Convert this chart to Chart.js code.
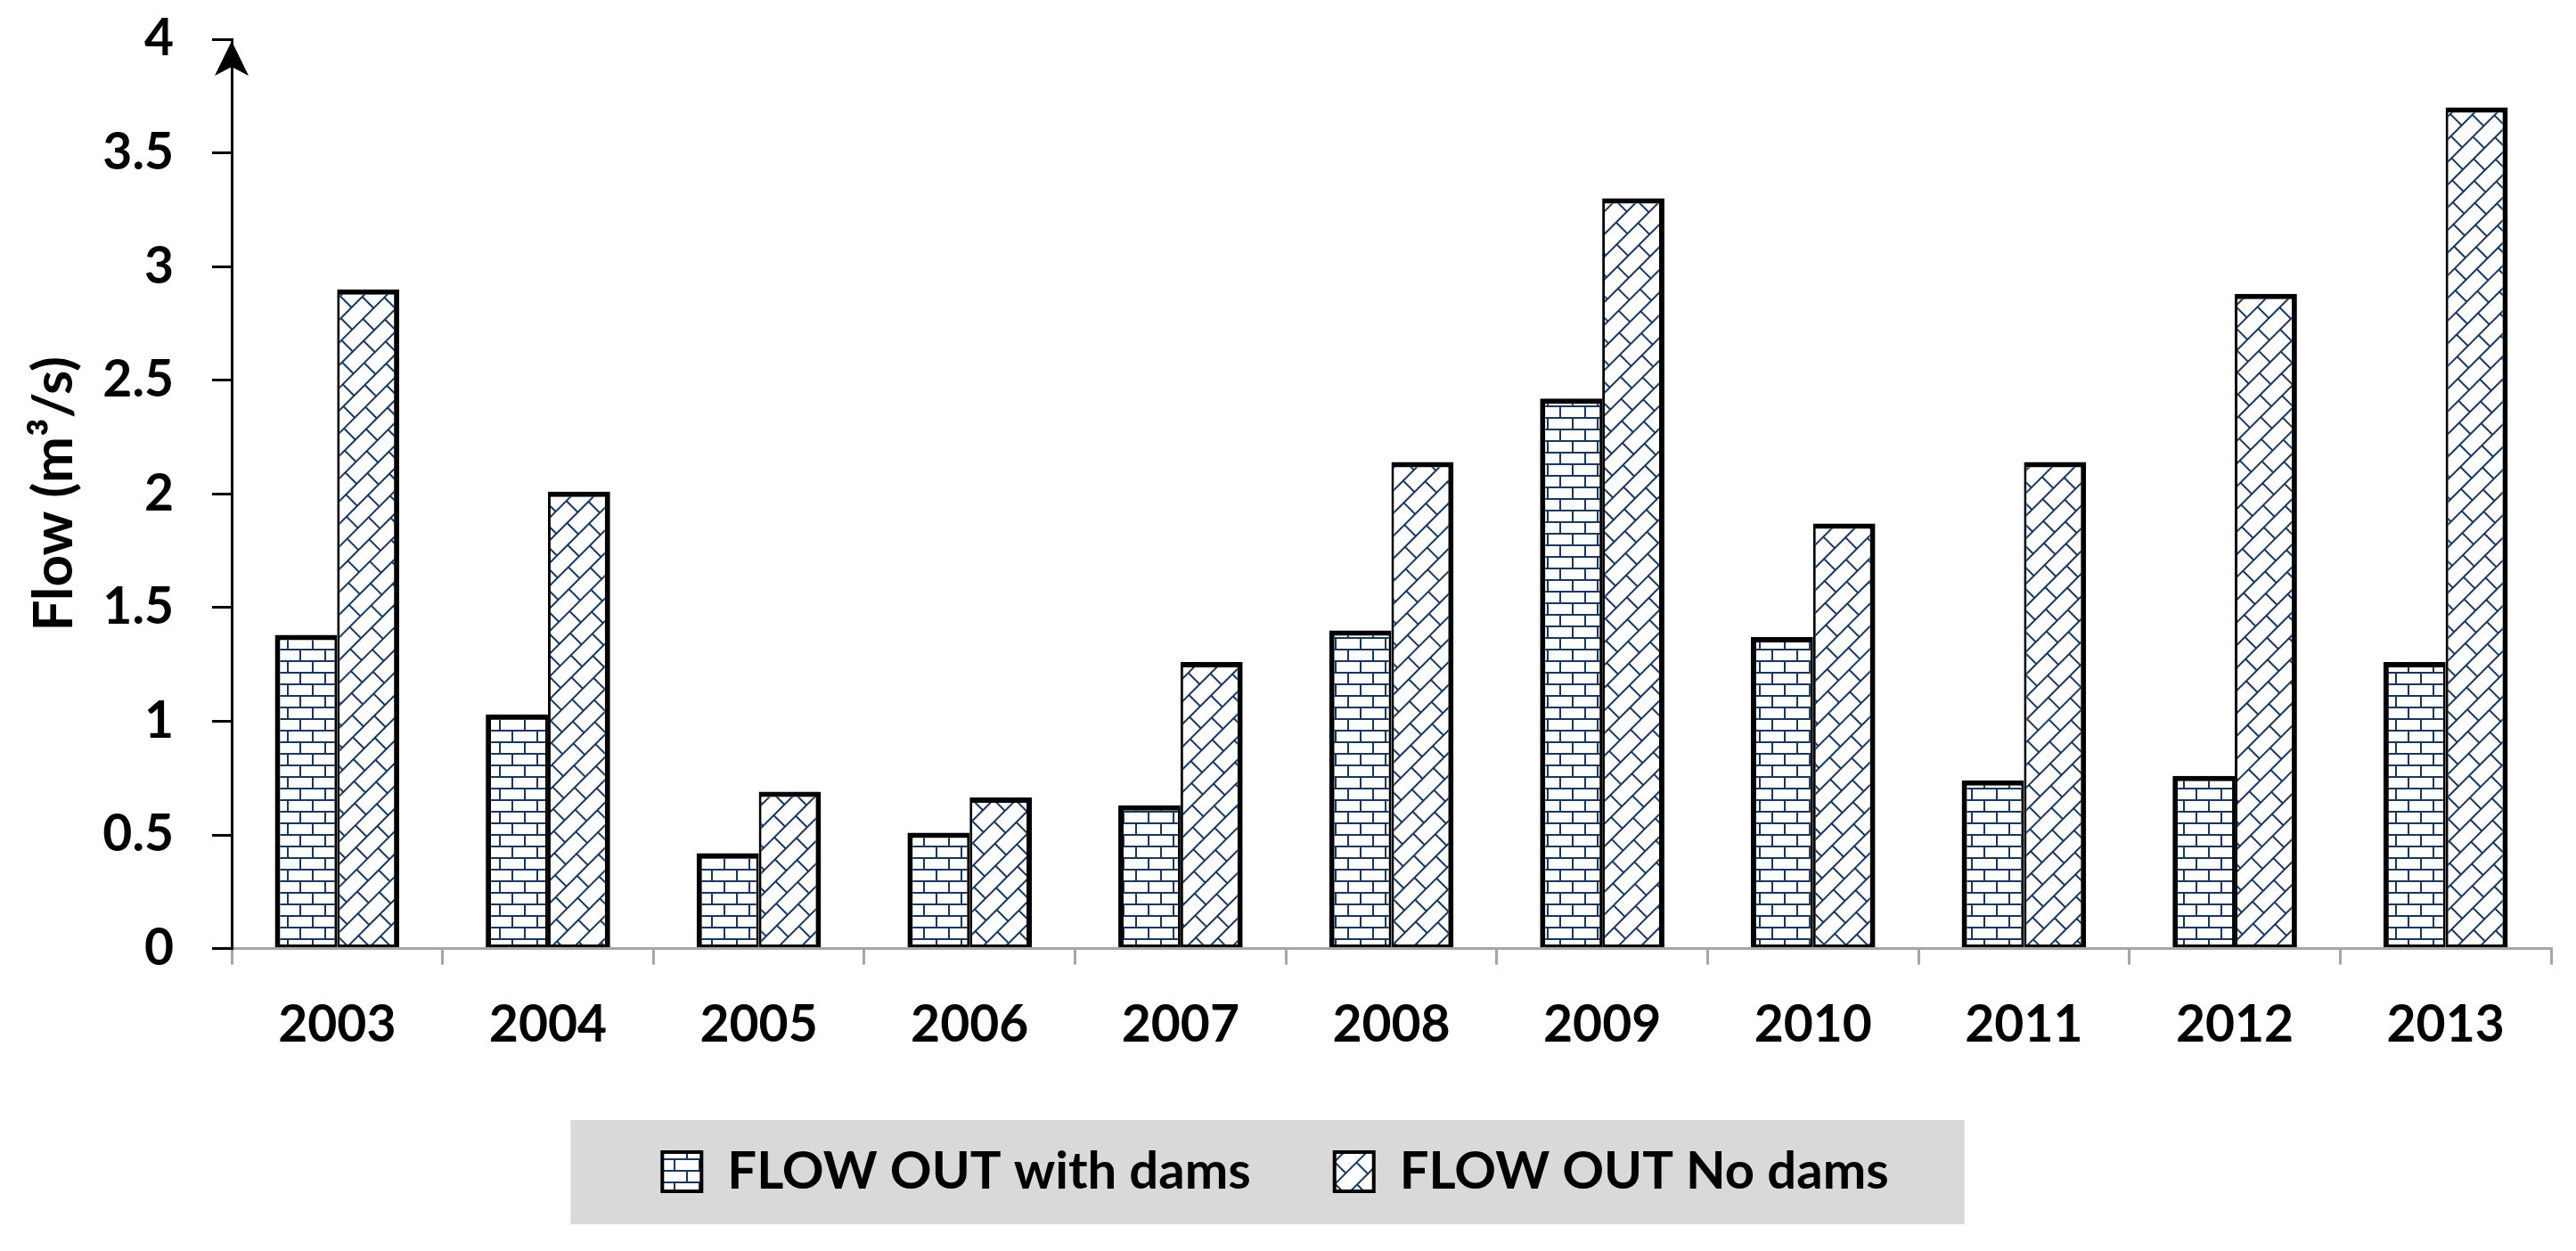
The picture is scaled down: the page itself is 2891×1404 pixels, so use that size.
<!DOCTYPE html>
<html>
<head>
<meta charset="utf-8">
<title>Flow out with / without dams</title>
<script src="https://cdn.jsdelivr.net/npm/chart.js@4.4.1/dist/chart.umd.min.js"></script>
<style>
  html, body { margin: 0; padding: 0; background: #ffffff; }
  #grafico-flujo { display: block; }
</style>
</head>
<body>
<canvas id="grafico-flujo" width="2891" height="1404"></canvas>
<script>
// datos
const years = ['2003', '2004', '2005', '2006', '2007', '2008', '2009', '2010', '2011', '2012', '2013'];
const flowWithDams = [1.38, 1.03, 0.42, 0.51, 0.63, 1.40, 2.42, 1.37, 0.74, 0.76, 1.26];
const flowNoDams = [2.90, 2.01, 0.69, 0.665, 1.26, 2.14, 3.30, 1.87, 2.14, 2.88, 3.70];
const seriesNames = ['FLOW OUT with dams', 'FLOW OUT No dams'];
const yTickLabels = ['0', '0.5', '1', '1.5', '2', '2.5', '3', '3.5', '4'];
const yTitle = 'Flow (m\u00b3/s)';

const navy = '#17375e';
const fontFamily = 'Lato, "Open Sans", sans-serif';

// patron de ladrillos (angle en grados para el diagonal)
const makeBricks = (bw, bh, angle) => {
    const tile = document.createElement('canvas');
    tile.width = bw;
    tile.height = bh * 2;
    const c = tile.getContext('2d');
    c.fillStyle = '#ffffff';
    c.fillRect(0, 0, bw, bh * 2);
    c.fillStyle = navy;
    c.fillRect(0, 0, bw, 2);
    c.fillRect(0, bh, bw, 2);
    c.fillRect(0, 0, 2, bh);
    c.fillRect(bw / 2, bh, 2, bh);
    const pattern = c.createPattern(tile, 'repeat');
    if (angle) pattern.setTransform(new DOMMatrix().rotate(angle));
    return pattern;
}

// fondo gris de la leyenda
const legendBackground = {
    id: 'legendBackground',
    beforeDraw(chart) {
        const boxes = chart.legend.legendHitBoxes;
        if (!boxes || !boxes.length) return;
        const first = boxes[0];
        const last = boxes[boxes.length - 1];
        const cy = first.top + first.height / 2;
        const ctx = chart.ctx;
        ctx.save();
        ctx.fillStyle = '#d9d9d9';
        ctx.fillRect(first.left - 103, cy - 58, (last.left + last.width + 85) - (first.left - 103), 117);
        ctx.restore();
    }
}

// flecha en el eje y
const yArrow = {
    id: 'yArrow',
    afterDraw(chart) {
        const ctx = chart.ctx;
        const x = chart.scales.y.right;
        const yTop = chart.scales.y.getPixelForValue(4);
        ctx.save();
        ctx.fillStyle = '#000000';
        ctx.beginPath();
        ctx.moveTo(x, yTop + 2);
        ctx.lineTo(x + 19, yTop + 41);
        ctx.lineTo(x, yTop + 31);
        ctx.lineTo(x - 19, yTop + 41);
        ctx.closePath();
        ctx.fill();
        ctx.restore();
    }
}

const drawChart = () => {
    const canvas = document.querySelector('#grafico-flujo');

    const chartConfig = {
        type: 'bar',
        data: {
            labels: years,
            datasets: [{
                label: seriesNames[0],
                data: flowWithDams,
                backgroundColor: makeBricks(28, 13, 0),
                borderColor: '#000000',
                borderWidth: { left: 6, right: 3, top: 6, bottom: 3 },
                borderSkipped: false,
                categoryPercentage: 0.59,
                barPercentage: 1.0
            }, {
                label: seriesNames[1],
                data: flowNoDams,
                backgroundColor: makeBricks(34, 18, -45),
                borderColor: '#000000',
                borderWidth: { left: 3, right: 6, top: 6, bottom: 3 },
                borderSkipped: false,
                categoryPercentage: 0.59,
                barPercentage: 1.0
            }]
        },
        options: {
            responsive: false,
            devicePixelRatio: 1,
            animation: false,
            layout: {
                padding: { top: 44, right: 28, bottom: 50, left: 0 }
            },
            plugins: {
                tooltip: { enabled: false },
                legend: {
                    position: 'bottom',
                    labels: {
                        color: '#000000',
                        font: { family: fontFamily, size: 58, weight: 'bold' },
                        boxWidth: 44,
                        boxHeight: 44,
                        padding: 94,
                        generateLabels: (chart) => Chart.defaults.plugins.legend.labels.generateLabels(chart)
                            .map(item => ({ ...item, lineWidth: 4, strokeStyle: '#000000' }))
                    }
                }
            },
            scales: {
                x: {
                    afterFit: (scale) => { scale.height -= 27; },
                    grid: {
                        offset: true,
                        drawOnChartArea: false,
                        drawTicks: true,
                        tickLength: 18,
                        color: '#a6a6a6',
                        lineWidth: 3
                    },
                    border: { display: true, color: '#a6a6a6', width: 3 },
                    ticks: {
                        color: '#000000',
                        padding: 34,
                        font: { family: fontFamily, size: 57, weight: 'bold' }
                    }
                },
                y: {
                    min: 0,
                    max: 4,
                    afterFit: (scale) => {
                        scale.width = 260;
                        scale.paddingTop = 34;
                        scale.paddingBottom = 34;
                    },
                    grid: {
                        drawOnChartArea: false,
                        drawTicks: true,
                        tickLength: 22,
                        color: '#000000',
                        lineWidth: 3
                    },
                    border: { display: true, color: '#000000', width: 3 },
                    ticks: {
                        stepSize: 0.5,
                        color: '#000000',
                        padding: 43,
                        font: { family: fontFamily, size: 57, weight: 'bold' },
                        callback: (value, index) => yTickLabels[index]
                    },
                    title: {
                        display: true,
                        text: yTitle,
                        color: '#000000',
                        padding: { top: 24, bottom: 0 },
                        font: { family: fontFamily, size: 62, weight: 'bold' }
                    }
                }
            }
        },
        plugins: [legendBackground, yArrow]
    }

    const chart = new Chart(canvas, chartConfig);
}

document.addEventListener('DOMContentLoaded', () => {
    document.fonts.load('bold 57px Lato').then(drawChart, drawChart);
})
</script>
</body>
</html>
